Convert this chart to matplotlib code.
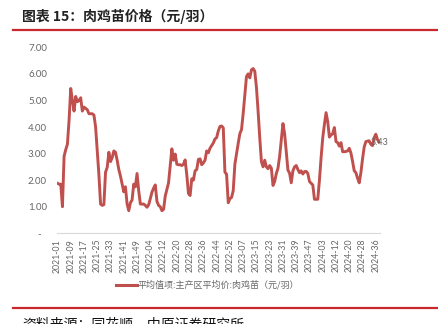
import matplotlib
matplotlib.use("Agg")
import matplotlib.pyplot as plt
from matplotlib.lines import Line2D

plt.rcParams['font.family'] = ['Noto Sans CJK SC', 'DejaVu Sans']

# weekly series: 2021 and 2022 have 53 weeks, 2023 has 52, 2024 skips week 6
weeks_2021 = list(range(1, 54))
weeks_2022 = list(range(1, 54))
weeks_2023 = list(range(1, 53))
weeks_2024 = [1, 2, 3, 4, 5] + list(range(7, 39))

week_labels = ([f"2021-{w:02d}" for w in weeks_2021] + [f"2022-{w:02d}" for w in weeks_2022]
               + [f"2023-{w:02d}" for w in weeks_2023] + [f"2024-{w:02d}" for w in weeks_2024])

# 主产区平均价:肉鸡苗 (元/羽)
price = [
    1.88, 1.85, 1.85, 1.00, 2.90, 3.15, 3.35, 4.25, 5.45, 5.00,
    4.60, 5.15, 4.95, 5.00, 5.10, 4.60, 4.75, 4.70, 4.65, 4.50,
    4.50, 4.50, 4.45, 4.00, 3.10, 2.20, 1.10, 1.05, 1.08, 2.30,
    2.48, 3.05, 2.70, 2.85, 3.10, 3.05, 2.75, 2.40, 2.15, 1.85,
    1.56, 1.75, 1.10, 0.85, 1.15, 1.25, 1.85, 1.75, 2.25, 1.60,
    1.10, 1.10, 1.10, 1.05, 0.98, 1.07, 1.30, 1.55, 1.70, 1.82,
    1.20, 1.05, 1.00, 0.85, 0.90, 1.40, 1.65, 1.90, 2.55, 3.18,
    2.75, 2.98, 2.60, 2.58, 2.58, 2.55, 2.60, 2.76, 2.20, 1.50,
    1.42, 2.05, 2.00, 2.35, 2.40, 2.78, 2.80, 2.58, 2.65, 2.75,
    3.10, 3.03, 3.20, 3.30, 3.40, 3.55, 3.60, 3.85, 4.02, 4.04,
    3.97, 2.30, 2.22, 1.15, 1.30, 1.35, 1.60, 2.60, 3.00, 3.38,
    3.75, 3.90, 4.50, 5.20, 5.90, 6.00, 5.85, 6.15, 6.20, 6.10,
    5.50, 4.60, 3.60, 2.70, 2.50, 2.75, 2.50, 2.43, 2.55, 2.45,
    1.80, 1.95, 2.25, 2.45, 2.90, 3.50, 4.13, 3.75, 3.07, 2.38,
    2.26, 1.90, 2.35, 2.50, 2.55, 2.40, 2.28, 2.35, 2.23, 2.32,
    2.33, 2.25, 1.95, 1.88, 1.82, 1.28, 1.28, 1.28, 2.00, 2.85,
    3.60, 4.10, 4.54, 4.20, 3.62, 3.70, 3.75, 3.98, 3.45, 3.41,
    3.28, 3.41, 3.07, 3.07, 3.08, 3.10, 3.20, 3.02, 2.70, 2.35,
    2.28, 2.07, 1.90, 2.28, 2.80, 3.25, 3.45, 3.47, 3.48, 3.35,
    3.30, 3.60, 3.73, 3.53, 3.43,
]

y_ticks = [0, 1, 2, 3, 4, 5, 6, 7]
y_tick_labels = ["-  ", "1.00", "2.00", "3.00", "4.00", "5.00", "6.00", "7.00"]

red = "#C9282D"
line_color = "#C0504D"
gray = "#666666"

fig = plt.figure(figsize=(4.39, 3.24), dpi=100)
ax = fig.add_axes([0.129, 0.28, 0.7365, 0.574])

x = list(range(len(price)))
ax.plot(x, price, color=line_color, lw=2.1, solid_joinstyle="round")
ax.text(x[-1] + 0.5, price[-1], f"{price[-1]:.2f}", ha="center", va="center",
        fontsize=6.5, color=gray, family="Lato")

ax.set_xlim(-0.5, len(price) - 0.5)
ax.set_ylim(0, 7)
ax.set_yticks(y_ticks)
ax.set_yticklabels(y_tick_labels, family="Lato", fontsize=7, color=gray)
ticks = list(range(0, len(price), 8))
ax.set_xticks(ticks)
ax.set_xticklabels([week_labels[i] for i in ticks], rotation=90, family="Lato",
                   fontsize=6.3, color=gray)
ax.tick_params(axis="both", length=0)
ax.tick_params(axis="y", pad=7)
ax.tick_params(axis="x", pad=4)
for side in ["left", "right", "top"]:
    ax.spines[side].set_visible(False)
ax.spines["bottom"].set_color("#D9D9D9")
ax.spines["bottom"].set_linewidth(0.8)

handle = Line2D([], [], color=line_color, lw=2.2)
fig.legend([handle], ["平均值项:主产区平均价:肉鸡苗（元/羽）"], loc="center",
           bbox_to_anchor=(0.473, 0.12), frameon=False, handlelength=2.3,
           handletextpad=0.1, prop={"family": "Noto Sans CJK SC", "size": 6.5},
           labelcolor=gray)

# header and footer rules
fig.add_artist(Line2D([13 / 439, 1], [1 - 29.5 / 324] * 2, color=red, lw=1.6,
                      transform=fig.transFigure))
fig.add_artist(Line2D([13 / 439, 1], [1 - 308 / 324] * 2, color=red, lw=1.6,
                      transform=fig.transFigure))

fig.text(22 / 439, 1 - 16 / 324, "图表 15：肉鸡苗价格（元/羽）", fontsize=10,
         fontweight="bold", va="center", ha="left", color="#222222")
fig.text(22 / 439, 1 - 317 / 324, "资料来源：同花顺，中原证券研究所", fontsize=10,
         va="top", ha="left", color="#111111")

fig.savefig("out.png", dpi=100)
